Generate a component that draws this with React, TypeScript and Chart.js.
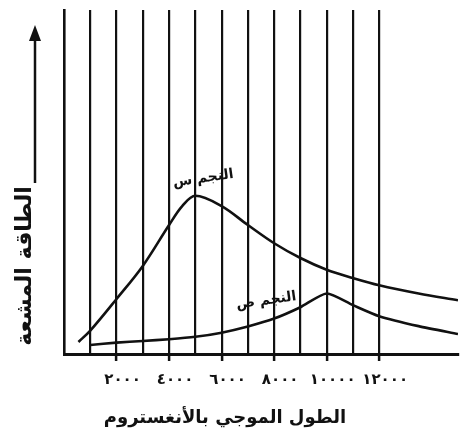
import React, { useEffect, useRef } from "react";
import { Chart, registerables } from "chart.js";

Chart.register(...registerables);

// Star X (النجم س): wavelength (Å) vs radiated energy (relative)
const starXWave = [550, 1000, 2000, 3000, 4000, 4500, 5000, 6000, 7000, 8000, 9000, 10000, 11000, 12000, 13500, 15000];
const starXEnergy = [3.5, 6.8, 16, 25.6, 37.5, 43, 46, 43, 37.5, 32.2, 27.9, 24.5, 22.1, 20, 17.6, 15.6];

// Star Y (النجم ص)
const starYWave = [1000, 2000, 3000, 4000, 5000, 6000, 7000, 8000, 9000, 10000, 11000, 12000, 13500, 15000];
const starYEnergy = [2.6, 3.3, 3.8, 4.3, 5, 6.2, 8, 10.3, 13.6, 17.6, 14.2, 11, 8.1, 5.8];

const tickValues = [2000, 4000, 6000, 8000, 10000, 12000];
const tickLabels = ["٢٠٠٠", "٤٠٠٠", "٦٠٠٠", "٨٠٠٠", "١٠٠٠٠", "١٢٠٠٠"];

const labelStarX = "النجم س";
const labelStarY = "النجم ص";
const labelStarXPos = [5300, 51];
const labelStarYPos = [7700, 15.5];

const xTitle = "الطول الموجي بالأنغستروم";
const yTitle = "الطاقة المشعة";

const FONT = '"DejaVu Sans", sans-serif';
const INK = "#111";

const decorPlugin = {
  id: "decor",
  beforeDraw(chart: any) {
    const { ctx } = chart;
    ctx.save();
    ctx.fillStyle = "#fff";
    ctx.fillRect(0, 0, chart.width, chart.height);
    ctx.restore();
  },
  afterDraw(chart: any) {
    const { ctx, chartArea, scales } = chart;
    const { left, top, bottom } = chartArea;
    ctx.save();
    ctx.fillStyle = INK;
    ctx.strokeStyle = INK;

    // y title (rotated)
    ctx.save();
    ctx.font = `bold 22px ${FONT}`;
    ctx.textAlign = "center";
    ctx.textBaseline = "middle";
    ctx.translate(left - 39, bottom - 88);
    ctx.rotate(-Math.PI / 2);
    ctx.fillText(yTitle, 0, 0);
    ctx.restore();

    // arrow
    const ax = left - 29;
    ctx.lineWidth = 2.5;
    ctx.beginPath();
    ctx.moveTo(ax, bottom - 171);
    ctx.lineTo(ax, top + 28);
    ctx.stroke();
    ctx.beginPath();
    ctx.moveTo(ax, top + 15);
    ctx.lineTo(ax - 6, top + 31);
    ctx.lineTo(ax + 6, top + 31);
    ctx.closePath();
    ctx.fill();

    // x title
    ctx.font = `bold 18px ${FONT}`;
    ctx.textAlign = "center";
    ctx.textBaseline = "middle";
    ctx.fillText(xTitle, left + 161, bottom + 64);

    // curve labels
    const drawLabel = (text: string, pos: number[]) => {
      const px = scales.x.getPixelForValue(pos[0]);
      const py = scales.y.getPixelForValue(pos[1]);
      ctx.save();
      ctx.translate(px, py);
      ctx.rotate(-0.14);
      ctx.font = `bold 14px ${FONT}`;
      ctx.textAlign = "center";
      ctx.textBaseline = "middle";
      ctx.fillText(text, 0, 0);
      ctx.restore();
    };
    drawLabel(labelStarX, labelStarXPos);
    drawLabel(labelStarY, labelStarYPos);
    ctx.restore();
  },
};

export default function App() {
  const canvasRef = useRef<HTMLCanvasElement | null>(null);

  useEffect(() => {
    document.documentElement.style.overflow = "hidden";
    document.body.style.margin = "0";
    document.body.style.overflow = "hidden";
    const canvas = canvasRef.current;
    if (!canvas) return;
    const chart = new Chart(canvas, {
      type: "line",
      data: {
        datasets: [
          {
            label: labelStarX,
            data: starXWave.map((x, i) => ({ x, y: starXEnergy[i] })),
            borderColor: INK,
            borderWidth: 2.6,
            pointRadius: 0,
            fill: false,
            tension: 0.35,
          },
          {
            label: labelStarY,
            data: starYWave.map((x, i) => ({ x, y: starYEnergy[i] })),
            borderColor: INK,
            borderWidth: 2.6,
            pointRadius: 0,
            fill: false,
            tension: 0.22,
          },
        ],
      },
      plugins: [decorPlugin],
      options: {
        animation: false,
        responsive: false,
        devicePixelRatio: 1,
        layout: { padding: { left: 64, right: 0, top: 10, bottom: 42 } },
        plugins: {
          legend: { display: false },
          tooltip: { enabled: false },
          title: { display: false },
        },
        scales: {
          x: {
            type: "linear",
            min: 0,
            max: 15000,
            afterBuildTicks: (axis: any) => {
              const t: any[] = [];
              for (let v = 0; v <= 15000; v += 1000) t.push({ value: v });
              axis.ticks = t;
            },
            ticks: {
              autoSkip: false,
              maxRotation: 0,
              labelOffset: 6,
              padding: 4,
              color: INK,
              font: { family: "DejaVu Sans", size: 15, weight: "bold", lineHeight: 2 },
              callback: (v: any) => {
                const i = tickValues.indexOf(Number(v));
                return i >= 0 ? tickLabels[i] : "";
              },
            },
            grid: {
              color: (c: any) => {
                const v = c.tick ? c.tick.value : -1;
                return v >= 1000 && v <= 12000 ? INK : "rgba(0,0,0,0)";
              },
              tickColor: (c: any) => {
                const v = c.tick ? c.tick.value : -1;
                return tickValues.includes(v) ? INK : "rgba(0,0,0,0)";
              },
              lineWidth: 2.2,
              tickLength: 7,
              tickWidth: 2.5,
            },
            border: { display: true, color: INK, width: 3 },
          },
          y: {
            type: "linear",
            min: 0,
            max: 100,
            ticks: { display: false },
            grid: { display: false, drawTicks: false },
            border: { display: true, color: INK, width: 2.6 },
          },
        },
      },
    } as any);
    return () => chart.destroy();
  }, []);

  return (
    <div style={{ width: 462, height: 441 }}>
      <canvas ref={canvasRef} width={462} height={441} style={{ display: "block" }} />
    </div>
  );
}
